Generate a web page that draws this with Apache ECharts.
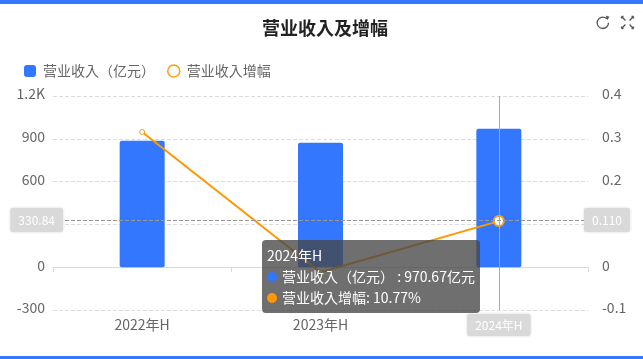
<!DOCTYPE html>
<html><head><meta charset="utf-8">
<style>
html,body{margin:0;padding:0;background:#fff;overflow:hidden}
#main{width:643px;height:359px;}
#top,#bot{position:absolute;left:0;width:643px;background:#3377ff;z-index:5}
#top{top:0;height:4px}#bot{top:356px;height:3px}
</style>
<script src="https://cdn.jsdelivr.net/npm/echarts@6/dist/echarts.min.js"></script>
</head><body><div id="top"></div><div id="bot"></div><div id="main"></div>
<script>
const categories=['2022年H','2023年H','2024年H'];
const revenue=[886,872,970.67];
const growth=[0.316,-0.012,0.1077];
const seriesNames=['营业收入（亿元）','营业收入增幅'];
const leftTicks={min:-300,max:1200,interval:300};
const rightTicks={min:-0.1,max:0.4,interval:0.1};
const hoverIndex=2, hoverValue=330.84;
const FONT='"Noto Sans CJK TC","Noto Sans",sans-serif';
const chart=echarts.init(document.getElementById('main'),null,{renderer:'canvas'});
const pointerLabel={show:true,backgroundColor:'#d9d9d9',color:'#fff',fontFamily:FONT,fontSize:12,shadowBlur:3,shadowColor:'rgba(0,0,0,0.15)',borderRadius:2,padding:[6,8]};
chart.setOption({
 animation:false,
 textStyle:{fontFamily:FONT},
 title:{text:'营业收入及增幅',left:257,top:14,textStyle:{fontSize:18,fontWeight:'bold',color:'#222',fontFamily:FONT}},
 toolbox:{right:-8,top:-1,itemSize:12,itemGap:8,iconStyle:{borderColor:'#555',color:'none',borderWidth:1.3},
  feature:{
   myRefresh:{show:true,title:'',icon:'path://M19,7A10,10 0 1,0 22,14M19,3L22,4L20,7Z',onclick(){}},
   myFull:{show:true,title:'',icon:'path://M3,3L9,9M3,3L3,6M3,3L6,3M21,3L15,9M21,3L21,6M21,3L18,3M3,21L9,15M3,21L3,18M3,21L6,21M21,21L15,15M21,21L21,18M21,21L18,21',onclick(){}}}},
 legend:{left:19,top:59,itemWidth:12,itemHeight:12,itemGap:12,textStyle:{fontSize:14,color:'#666',fontFamily:FONT,padding:[0,0,0,2]},
  data:[{name:seriesNames[0],icon:'roundRect'},{name:seriesNames[1],icon:'circle',itemStyle:{color:'#fff',borderColor:'#f9a11b',borderWidth:1.5}}]},
 grid:{left:53,right:55,top:96,bottom:49,outerBoundsMode:'none'},
 tooltip:{trigger:'axis',confine:false,alwaysShowContent:true,
  axisPointer:{type:'cross',crossStyle:{color:'#999',width:1},lineStyle:{color:'#aaa'},label:pointerLabel},
  position:[262,240],
  backgroundColor:'rgba(70,70,70,0.78)',borderWidth:0,padding:[5,5],
  textStyle:{color:'#fff',fontSize:14,fontFamily:FONT},
  extraCssText:'border-radius:4px;box-shadow:none;line-height:21px;white-space:nowrap;',
  formatter(ps){
    const dot=c=>`<span style="display:inline-block;width:10px;height:10px;border-radius:50%;background:${c};margin-right:5px"></span>`;
    const r=ps.find(p=>p.seriesIndex===0), g=ps.find(p=>p.seriesIndex===1);
    return `${r.axisValue}<br>${dot('#3377ff')}${r.seriesName} : ${r.value}亿元<br>${dot('#ff9800')}${g.seriesName}: ${(g.value*100).toFixed(2)}%`;
  }},
 xAxis:[
  {type:'category',data:categories,
   axisLine:{lineStyle:{color:'#d9d9d9'},onZero:true},axisTick:{show:true,lineStyle:{color:'#d9d9d9'}},
   axisLabel:{show:false},
   axisPointer:{type:'line',lineStyle:{type:'solid',color:'#aaa'},label:{...pointerLabel,padding:[5,8],margin:4}}},
  {type:'category',data:categories,position:'bottom',
   axisLine:{show:false,onZero:false},axisTick:{show:false},
   axisLabel:{color:'#666',fontSize:14,fontFamily:FONT,margin:8},
   axisPointer:{show:false}}
 ],
 yAxis:[
  {type:'value',...leftTicks,position:'left',
   axisLine:{show:false},axisTick:{show:false},
   axisLabel:{color:'#666',fontSize:14,fontFamily:FONT,margin:8,verticalAlign:'bottom',lineHeight:4,formatter:v=>v>=1000?(v/1000).toFixed(1)+'K':v},
   splitLine:{lineStyle:{type:'dashed',color:'#ddd'}},
   axisPointer:{label:{...pointerLabel,precision:2,margin:-10}}},
  {type:'value',...rightTicks,position:'right',
   axisLine:{show:false},axisTick:{show:false},
   axisLabel:{color:'#666',fontSize:14,fontFamily:FONT,margin:14,verticalAlign:'bottom',lineHeight:4,formatter:v=>+v.toFixed(1)},
   splitLine:{show:false},
   axisPointer:{label:{...pointerLabel,precision:3,margin:-4}}}
 ],
 series:[
  {name:seriesNames[0],type:'bar',data:revenue,barWidth:45,xAxisIndex:0,yAxisIndex:0,
   itemStyle:{color:'#3377ff',borderRadius:[2,2,2,2]},emphasis:{disabled:true}},
  {name:seriesNames[1],type:'line',data:growth,xAxisIndex:0,yAxisIndex:1,symbol:'circle',symbolSize:5,showSymbol:true,
   lineStyle:{color:'#f08a00',width:2},
   itemStyle:{color:'#fff',borderColor:'#f9a11b',borderWidth:1},
   emphasis:{scale:2,itemStyle:{color:'#fff',borderColor:'#f9a11b',borderWidth:2}}}
 ]
});
const px=chart.convertToPixel({xAxisIndex:0},categories[hoverIndex]);
const py=chart.convertToPixel({yAxisIndex:0},hoverValue);
chart.dispatchAction({type:'showTip',x:px,y:py});
chart.dispatchAction({type:'highlight',seriesIndex:1,dataIndex:hoverIndex});
</script></body></html>
